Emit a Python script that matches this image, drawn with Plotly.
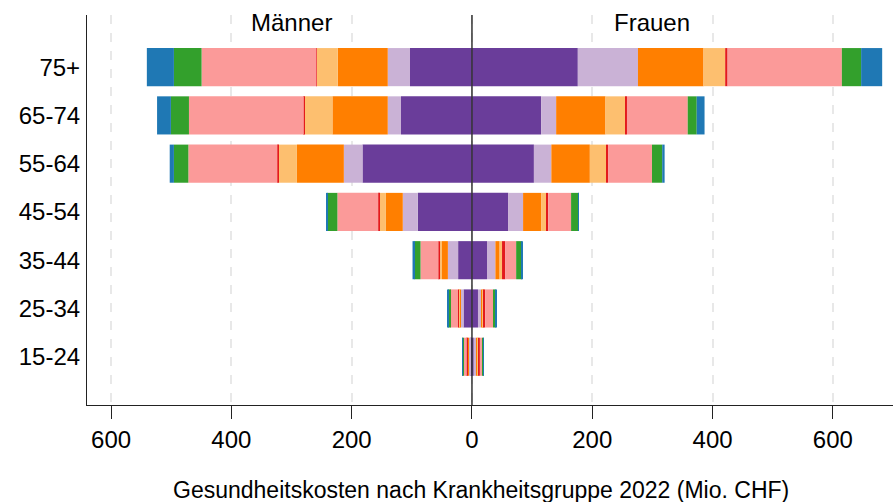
import plotly.graph_objects as go

ages = ["15-24", "25-34", "35-44", "45-54", "55-64", "65-74", "75+"]
groups = ["Gruppe 1", "Gruppe 2", "Gruppe 3", "Gruppe 4", "Gruppe 5", "Gruppe 6", "Gruppe 7", "Gruppe 8"]
colors = ["#6a3d9a", "#cab2d6", "#ff7f00", "#fdbf6f", "#e31a1c", "#fb9a99", "#33a02c", "#1f78b4"]

# Männer (Mio. CHF), by age group bottom to top
m_g1 = [3, 14, 23, 90, 182, 118, 103]
m_g2 = [3, 5, 17, 25, 31, 22, 37]
m_g3 = [1, 1.5, 10, 28, 78, 92, 83]
m_g4 = [1, 1.7, 3.3, 11, 31, 47, 35]
m_g5 = [0.5, 1, 2.2, 1.7, 1.5, 0.5, 0.5]
m_g6 = [6, 13, 30, 68, 148, 191, 191]
m_g7 = [0.5, 3.3, 10, 17, 24, 30, 46]
m_g8 = [0.5, 1, 3.3, 2, 7, 23, 45]

# Frauen (Mio. CHF)
f_g1 = [3, 10, 25, 60, 103, 115, 176]
f_g2 = [4.5, 5.5, 14, 25, 29, 25, 100]
f_g3 = [1.5, 2, 7, 30.5, 64, 82, 109]
f_g4 = [1.5, 2, 4, 8, 27, 33, 36]
f_g5 = [2.5, 2.5, 5.5, 3.3, 3.3, 2.7, 4]
f_g6 = [5, 13, 18, 38, 73, 101, 190]
f_g7 = [1.5, 4.5, 9.5, 12, 17, 15, 32]
f_g8 = [0.5, 0.5, 0.5, 0.5, 4, 13, 35]

tick_vals = [-600, -400, -200, 0, 200, 400, 600]
tick_text = ["600", "400", "200", "0", "200", "400", "600"]

men = [m_g1, m_g2, m_g3, m_g4, m_g5, m_g6, m_g7, m_g8]
women = [f_g1, f_g2, f_g3, f_g4, f_g5, f_g6, f_g7, f_g8]

fig = go.Figure()
for name, col, mv in zip(groups, colors, men):
    fig.add_trace(go.Bar(y=ages, x=[-v for v in mv], orientation="h", name=name,
                         marker=dict(color=col, line=dict(width=0)), showlegend=False))
for name, col, fv in zip(groups, colors, women):
    fig.add_trace(go.Bar(y=ages, x=fv, orientation="h", name=name,
                         marker=dict(color=col, line=dict(width=0)), showlegend=False))

font = "Liberation Sans, Arial, sans-serif"
fig.update_layout(
    width=893, height=502,
    barmode="relative", bargap=0.21,
    plot_bgcolor="white", paper_bgcolor="white",
    margin=dict(l=87, r=0, t=15, b=97, autoexpand=False),
    font=dict(family=font, size=24, color="black"),
    xaxis=dict(range=[-640, 700], tickvals=tick_vals, ticktext=tick_text,
               showgrid=True, gridcolor="#e8e8e8", griddash="dash", gridwidth=1.5,
               zeroline=False, showline=True, linecolor="#222", linewidth=1.2,
               ticks="outside", ticklen=13, tickcolor="#222", automargin=False,
               tickfont=dict(size=24)),
    yaxis=dict(range=[-1, 7.08], showgrid=False, zeroline=False, showline=True,
               linecolor="#222", linewidth=1.2, ticks="", ticklabelstandoff=1,
               automargin=False, tickfont=dict(size=24)),
    shapes=[dict(type="line", xref="x", yref="paper", x0=0, x1=0, y0=0, y1=1,
                 line=dict(color="#333", width=1.5), layer="above")],
    annotations=[
        dict(x=-300, y=6.93, xref="x", yref="y", text="Männer", showarrow=False, font=dict(size=24)),
        dict(x=300, y=6.93, xref="x", yref="y", text="Frauen", showarrow=False, font=dict(size=24)),
        dict(x=0.489, y=-0.218, xref="paper", yref="paper", xanchor="center", yanchor="middle",
             text="Gesundheitskosten nach Krankheitsgruppe 2022 (Mio. CHF)",
             showarrow=False, font=dict(size=23)),
    ],
)

fig.write_html("out.html", config={"displayModeBar": False},
               post_script="document.body.style.margin='0';document.body.style.overflow='hidden';")
